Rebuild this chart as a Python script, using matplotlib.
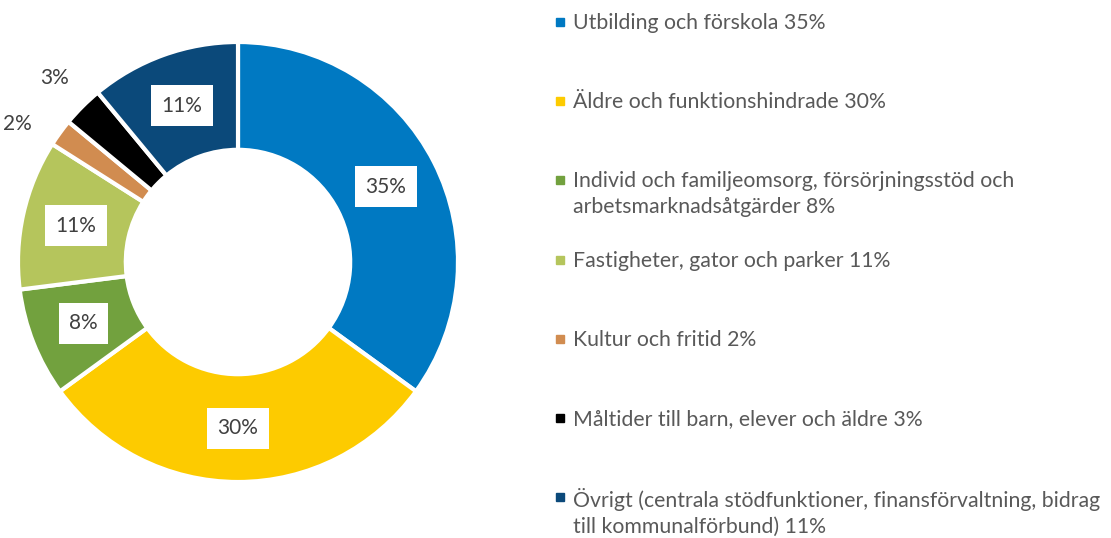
import numpy as np
import matplotlib.pyplot as plt

categories = [
    "Utbilding och förskola",
    "Äldre och funktionshindrade",
    "Individ och familjeomsorg, försörjningsstöd och\narbetsmarknadsåtgärder",
    "Fastigheter, gator och parker",
    "Kultur och fritid",
    "Måltider till barn, elever och äldre",
    "Övrigt (centrala stödfunktioner, finansförvaltning, bidrag\ntill kommunalförbund)",
]
shares = [35, 30, 8, 11, 2, 3, 11]
colors = ["#0079C2", "#FDCB00", "#72A13E", "#B5C55C", "#D18C50", "#000000", "#0B497A"]

plt.rcParams['font.family'] = ['Lato', 'DejaVu Sans']

fig = plt.figure(figsize=(11.11, 5.38), dpi=100)
W, H = 1111, 538
cx, cy, R = 238, 262, 220
ax = fig.add_axes([(cx - R) / W, (H - cy - R) / H, 2 * R / W, 2 * R / H])

wedges, texts, autotexts = ax.pie(
    shares,
    colors=colors,
    startangle=90,
    counterclock=False,
    radius=1,
    wedgeprops=dict(width=0.49, edgecolor="white", linewidth=3),
    autopct="%d%%",
    pctdistance=0.755,
    textprops=dict(fontsize=15, color="#404040"),
)
for w, t, v in zip(wedges, autotexts, shares):
    if v < 5:
        ang = (w.theta1 + w.theta2) / 2
        if v == 2:
            ang += 4  # nudged a little, as in the original
        ang = np.deg2rad(ang)
        t.set_position((1.18 * np.cos(ang), 1.18 * np.sin(ang)))
    else:
        t.set_bbox(dict(facecolor="white", edgecolor="none", boxstyle="square,pad=0.5"))
ax.set_xlim(-1, 1)
ax.set_ylim(-1, 1)
ax.set_aspect("equal")
ax.axis("off")

# legend drawn by hand so the rows stay evenly spaced
y0, step = 23, 79.2
for i, (name, v, c) in enumerate(zip(categories, shares, colors)):
    y = y0 + i * step
    fig.patches.append(plt.Rectangle((556 / W, 1 - (y + 3) / H), 8 / W, 8 / H,
                                     transform=fig.transFigure, color=c))
    fig.text(573 / W, 1 - (y - 10) / H, f"{name} {v}%", fontsize=15.3, color="#595959",
             va="top", ha="left", linespacing=1.35)

fig.savefig("out.png", dpi=100, facecolor="white")
